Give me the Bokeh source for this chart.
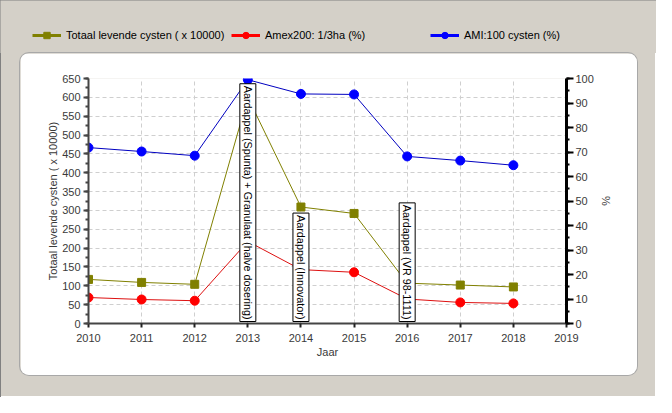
from math import pi
from bokeh.plotting import figure
from bokeh.models import (Range1d, LinearAxis, SingleIntervalTicker, Label,
                          Legend, LegendItem)
from bokeh.layouts import column
from bokeh.embed import file_html
from bokeh.resources import INLINE

# ---- data ----
years = [2010, 2011, 2012, 2013, 2014, 2015, 2016, 2017, 2018]
totaal = [117, 109, 104, 600, 309, 292, 107, 102, 97]
amex = [10.6, 9.8, 9.3, 33.5, 22.0, 20.9, 10.0, 8.6, 8.2]
ami = [71.8, 70.2, 68.5, 99.5, 93.7, 93.5, 68.2, 66.5, 64.6]
ann_years = [2013, 2014, 2016]
ann_texts = ["Aardappel (Spunta) + Granulaat (halve dosering)",
             "Aardappel (Innovator)",
             "Aardappel (VR 98-1111)"]
legend_labels = ["Totaal levende cysten ( x 10000)", "Amex200: 1/3ha (%)",
                 "AMI:100 cysten (%)"]
x_label = "Jaar"
y_label = "Totaal levende cysten ( x 10000)"
y2_label = "%"

GRAY = "#d4d0c8"
OLIVE = "#808000"
RED = "#ff0000"
BLUE = "#0000ff"
FONT = "Liberation Sans"
FS = "11px"

# ---- main chart ----
p = figure(width=617, height=322, x_range=Range1d(2010, 2019), y_range=Range1d(0, 650),
           output_backend="svg", toolbar_location=None,
           min_border_left=68, min_border_right=71, min_border_top=25, min_border_bottom=52,
           background_fill_color="white", border_fill_color="white",
           outline_line_color=None, margin=(0, 0, 0, 20),
           styles={"border-radius": "9px", "overflow": "hidden",
                   "box-shadow": "0 0 0 1px #a8a8a8"})
p.extra_y_ranges = {"pct": Range1d(0, 100)}
la = p.yaxis[0]
xa = p.xaxis[0]

xt = SingleIntervalTicker(interval=1, num_minor_ticks=0)
yt = SingleIntervalTicker(interval=50, num_minor_ticks=2)
xa.ticker = xt
la.ticker = yt
p.xgrid.ticker = xt
p.ygrid.ticker = yt
for g in (p.xgrid, p.ygrid):
    g.grid_line_color = "#cfcfcf"
    g.grid_line_dash = "4 3"
    g.grid_line_width = 1

ra = LinearAxis(y_range_name="pct", ticker=SingleIntervalTicker(interval=10, num_minor_ticks=2),
                axis_label=y2_label)
p.add_layout(ra, "right")

xa.axis_label = x_label
la.axis_label = y_label

for ax in (xa, la, ra):
    ax.major_label_text_font = FONT
    ax.major_label_text_font_size = FS
    ax.major_label_text_color = "#3a3a3a"
    ax.axis_label_text_font = FONT
    ax.axis_label_text_font_size = FS
    ax.axis_label_text_font_style = "normal"
    ax.axis_label_text_color = "#3a3a3a"
    ax.major_tick_in = 0
    ax.minor_tick_in = 0
    ax.axis_line_width = 2

xa.axis_line_color = "#454545"
xa.major_tick_line_color = "#222222"
xa.major_tick_line_width = 2
xa.major_tick_out = 4
xa.major_label_standoff = 6
xa.axis_label_standoff = 1

la.axis_line_color = "#454545"
la.major_tick_line_color = "#454545"
la.minor_tick_line_color = "#454545"
la.major_tick_line_width = 2
la.minor_tick_line_width = 2
la.major_tick_out = 5
la.minor_tick_out = 3
la.major_label_standoff = 3
la.axis_label_standoff = 0

ra.axis_line_color = "black"
ra.axis_line_width = 3
ra.major_tick_line_color = "black"
ra.minor_tick_line_color = "black"
ra.major_tick_line_width = 2
ra.minor_tick_line_width = 2
ra.major_tick_out = 7
ra.minor_tick_out = 3
ra.major_label_standoff = 2
ra.axis_label_standoff = 3

p.line(years, totaal, color=OLIVE, line_width=1)
p.scatter(years, totaal, marker="square", size=8, color=OLIVE)
p.line(years, amex, color="#dd1010", line_width=1, y_range_name="pct")
p.scatter(years, amex, marker="circle", size=9, color=RED, y_range_name="pct")
p.line(years, ami, color="#0000c0", line_width=1, y_range_name="pct")
p.scatter(years, ami, marker="circle", size=9, color=BLUE, y_range_name="pct")

for yr, txt in zip(ann_years, ann_texts):
    p.add_layout(Label(x=yr, y=0, y_offset=2, text=txt, angle=-pi / 2,
                       text_align="right", text_baseline="middle",
                       text_font=FONT, text_font_size="10.8px", text_color="black",
                       background_fill_color="white", border_line_color="black",
                       border_line_width=1, padding=2))

# ---- legend strip ----
leg = figure(width=656, height=53, x_range=Range1d(0, 1), y_range=Range1d(0, 1),
             output_backend="svg", toolbar_location=None,
             min_border_left=0, min_border_right=0, min_border_top=0, min_border_bottom=0,
             x_axis_location=None, y_axis_location=None,
             background_fill_color=GRAY, border_fill_color=GRAY, outline_line_color=None)
leg.grid.visible = False
r1 = [leg.line(years, totaal, color=OLIVE, line_width=3),
      leg.scatter(years, totaal, marker="square", size=9, color=OLIVE)]
r2 = [leg.line(years, amex, color=RED, line_width=3),
      leg.scatter(years, amex, marker="circle", size=9, color=RED)]
r3 = [leg.line(years, ami, color=BLUE, line_width=3),
      leg.scatter(years, ami, marker="circle", size=9, color=BLUE)]
leg_x = [32, 231, 430]
for lab, rr, lx in zip(legend_labels, (r1, r2, r3), leg_x):
    leg.add_layout(Legend(items=[LegendItem(label=lab, renderers=rr)],
                          orientation="horizontal", location=(lx, 10), padding=0, margin=0,
                          spacing=0, glyph_width=29, glyph_height=16, label_height=16,
                          label_standoff=5, border_line_color=None,
                          background_fill_alpha=0, label_text_font=FONT,
                          label_text_font_size=FS, label_text_color="black"))

top = column(leg, width=656, height=53)
layout = column(top, p, width=656, height=397, spacing=0,
                styles={"background-color": GRAY,
                        "box-shadow": "inset 1px 1px 0 #808080, inset -1px -1px 0 #ffffff"})

open("out.html", "w").write(file_html(layout, INLINE))
